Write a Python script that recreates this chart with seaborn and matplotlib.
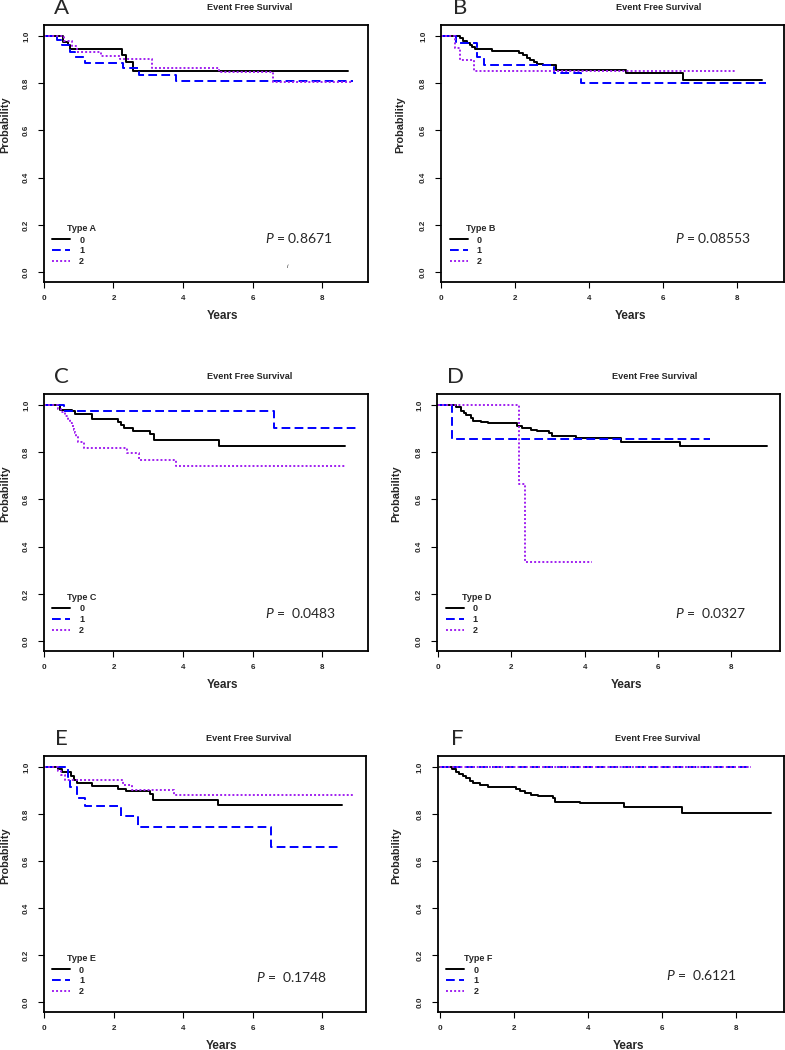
import matplotlib
matplotlib.use("Agg")
import matplotlib.pyplot as plt
import seaborn as sns
import pandas as pd

# Kaplan-Meier step data: time of each step and survival after it
A_t0 = [0, 0.54, 0.68, 0.74, 2.25, 2.37, 2.57, 8.75]
A_s0 = [1.0, 0.975, 0.963, 0.947, 0.919, 0.889, 0.853, 0.853]
A_t1 = [0, 0.37, 0.52, 0.76, 0.90, 1.19, 2.28, 2.73, 3.81, 8.90]
A_s1 = [1.0, 0.984, 0.961, 0.932, 0.910, 0.887, 0.865, 0.834, 0.808, 0.808]
A_t2 = [0, 0.57, 0.80, 0.95, 1.63, 2.20, 3.11, 5.03, 6.59, 8.90]
A_s2 = [1.0, 0.978, 0.956, 0.931, 0.914, 0.904, 0.865, 0.848, 0.807, 0.807]

B_t0 = [0, 0.51, 0.60, 0.69, 0.78, 0.85, 0.93, 1.37, 2.10, 2.21, 2.32, 2.41, 2.50,
        2.59, 2.75, 3.12, 5.00, 6.55, 8.68]
B_s0 = [1.0, 0.991, 0.980, 0.970, 0.963, 0.955, 0.946, 0.935, 0.928, 0.919, 0.907,
        0.897, 0.890, 0.883, 0.876, 0.857, 0.845, 0.813, 0.813]
B_t1 = [0, 0.40, 0.97, 1.17, 3.04, 3.78, 8.78]
B_s1 = [1.0, 0.970, 0.910, 0.878, 0.843, 0.800, 0.800]
B_t2 = [0, 0.38, 0.50, 0.88, 7.97]
B_s2 = [1.0, 0.950, 0.900, 0.850, 0.850]

C_t0 = [0, 0.45, 0.81, 0.90, 1.38, 2.12, 2.21, 2.29, 2.56, 3.06, 3.16, 5.03, 8.65]
C_s0 = [1.0, 0.980, 0.975, 0.960, 0.941, 0.927, 0.915, 0.901, 0.889, 0.878, 0.853,
        0.828, 0.828]
C_t1 = [0, 0.57, 6.61, 9.00]
C_s1 = [1.0, 0.973, 0.904, 0.904]
C_t2 = [0, 0.40, 0.50, 0.60, 0.68, 0.74, 0.80, 0.85, 0.90, 0.93, 0.97, 1.16, 2.39,
        2.73, 3.81, 8.70]
C_s2 = [1.0, 0.985, 0.970, 0.955, 0.940, 0.925, 0.910, 0.895, 0.880, 0.865, 0.843,
        0.818, 0.797, 0.768, 0.740, 0.740]

D_t0 = [0, 0.48, 0.62, 0.70, 0.77, 0.89, 0.96, 1.16, 1.36, 2.16, 2.30, 2.53, 2.69,
        3.03, 3.12, 3.75, 5.00, 6.61, 8.97]
D_s0 = [1.0, 0.993, 0.975, 0.966, 0.956, 0.945, 0.933, 0.928, 0.922, 0.910, 0.903,
        0.896, 0.890, 0.880, 0.868, 0.862, 0.845, 0.825, 0.825]
D_t1 = [0, 0.39, 7.43]
D_s1 = [1.0, 0.857, 0.857]
D_t2 = [0, 2.21, 2.38, 4.20]
D_s2 = [1.0, 0.667, 0.333, 0.333]

E_t0 = [0, 0.39, 0.52, 0.78, 0.86, 0.95, 1.38, 2.12, 2.37, 3.04, 3.14, 5.00, 8.56]
E_s0 = [1.0, 0.990, 0.979, 0.960, 0.945, 0.931, 0.919, 0.908, 0.896, 0.885, 0.859,
        0.838, 0.838]
E_t1 = [0, 0.70, 0.76, 0.95, 1.19, 2.22, 2.70, 6.52, 8.46]
E_s1 = [1.0, 0.957, 0.913, 0.870, 0.833, 0.790, 0.746, 0.660, 0.660]
E_t2 = [0, 0.40, 0.50, 0.60, 2.27, 2.53, 3.75, 8.87]
E_s2 = [1.0, 0.985, 0.965, 0.945, 0.925, 0.902, 0.881, 0.881]

F_t0 = [0, 0.32, 0.44, 0.52, 0.62, 0.71, 0.80, 0.89, 1.07, 1.31, 2.06, 2.17, 2.30,
        2.46, 2.64, 3.05, 3.11, 3.77, 4.97, 6.54, 8.93]
F_s0 = [1.0, 0.993, 0.981, 0.970, 0.962, 0.952, 0.942, 0.931, 0.925, 0.915, 0.907,
        0.897, 0.889, 0.882, 0.876, 0.868, 0.852, 0.846, 0.828, 0.806, 0.806]
F_t1 = [0, 8.38]
F_s1 = [1.0, 1.0]
F_t2 = [0, 8.38]
F_s2 = [1.0, 1.0]

letters = ["A", "B", "C", "D", "E", "F"]
legend_titles = ["Type A", "Type B", "Type C", "Type D", "Type E", "Type F"]
p_labels = ["0.8671", "0.08553", " 0.0483", " 0.0327", " 0.1748", " 0.6121"]
groups = ["0", "1", "2"]

curves = {
    "A": [(A_t0, A_s0), (A_t1, A_s1), (A_t2, A_s2)],
    "B": [(B_t0, B_s0), (B_t1, B_s1), (B_t2, B_s2)],
    "C": [(C_t0, C_s0), (C_t1, C_s1), (C_t2, C_s2)],
    "D": [(D_t0, D_s0), (D_t1, D_s1), (D_t2, D_s2)],
    "E": [(E_t0, E_s0), (E_t1, E_s1), (E_t2, E_s2)],
    "F": [(F_t0, F_s0), (F_t1, F_s1), (F_t2, F_s2)],
}

# axes rectangles in figure fraction (left, bottom, width, height)
rects = {
    "A": [0.056, 0.7314, 0.4127, 0.2448],
    "B": [0.5618, 0.7314, 0.4370, 0.2448],
    "C": [0.056, 0.3800, 0.4127, 0.2448],
    "D": [0.5567, 0.3800, 0.4370, 0.2448],
    "E": [0.056, 0.0362, 0.4100, 0.2438],
    "F": [0.5576, 0.0362, 0.4410, 0.2438],
}
xmax = {"A": 9.32, "B": 9.27, "C": 9.32, "D": 9.33, "E": 9.25, "F": 9.28}
xmin = {"A": 0.0, "B": 0.0, "C": 0.0, "D": -0.03, "E": 0.0, "F": -0.06}
p_pos = {"A": (0.682, 0.171), "B": (0.682, 0.171), "C": (0.682, 0.148),
         "D": (0.694, 0.148), "E": (0.658, 0.137), "F": (0.660, 0.143)}

colors = ["black", "#0000FF", "#A020F0"]
dash_styles = [(None, None), (4.5, 2.2), (1.0, 1.1)]


def main():
    sns.set_style("white")
    plt.rcParams["font.family"] = ["Liberation Sans", "DejaVu Sans"]
    plt.rcParams["mathtext.fontset"] = "custom"
    plt.rcParams["mathtext.it"] = "Lato:italic"
    plt.rcParams["mathtext.rm"] = "Lato"

    fig = plt.figure(figsize=(7.85, 10.5), dpi=100)

    for i, key in enumerate(letters):
        ax = fig.add_axes(rects[key])
        handles = []
        for g, (t, s) in enumerate(curves[key]):
            df = pd.DataFrame({"Years": t, "Probability": s})
            sns.lineplot(x="Years", y="Probability", data=df, ax=ax, sort=False,
                         estimator=None, drawstyle="steps-post", color=colors[g],
                         linewidth=1.4, label=groups[g])
            line = ax.lines[-1]
            if dash_styles[g][0] is not None:
                line.set_dashes(dash_styles[g])
            handles.append(line)

        ax.set_xlim(xmin[key], xmax[key])
        ax.set_ylim(-0.042, 1.047)
        ax.set_xticks([0, 2, 4, 6, 8])
        ax.set_yticks([0.0, 0.2, 0.4, 0.6, 0.8, 1.0])
        ax.set_yticklabels(["0.0", "0.2", "0.4", "0.6", "0.8", "1.0"], rotation=90,
                           va="center")
        ax.tick_params(axis="both", which="major", labelsize=5.8, length=4.5,
                       width=0.8, direction="out", color="black", left=True,
                       bottom=True)
        ax.tick_params(axis="x", pad=5)
        ax.tick_params(axis="y", pad=5.5)
        for lab in ax.get_xticklabels() + ax.get_yticklabels():
            lab.set_fontweight("bold")
        for sp in ax.spines.values():
            sp.set_color("black")
            sp.set_linewidth(1.3)
        ax.set_xlabel("")
        ax.set_ylabel("")

        ax.text(0.551, -0.132, "Years", transform=ax.transAxes, ha="center",
                va="center", fontsize=8.5, fontweight="bold")
        ax.text(-0.12, 0.612, "Probability", transform=ax.transAxes, ha="center",
                va="center", rotation=90, fontsize=7.8, fontweight="bold")
        ax.text(0.635, 1.068, "Event Free Survival", transform=ax.transAxes,
                ha="center", va="center", fontsize=6.6, fontweight="bold")
        ax.text(0.055, 1.066, key, transform=ax.transAxes, ha="center",
                va="center", fontsize=16, family="Lato")

        ax.legend(handles=handles, labels=groups, loc="upper left",
                  bbox_to_anchor=(0.025, 0.181), frameon=False,
                  borderpad=0, borderaxespad=0, handlelength=2.0,
                  handletextpad=1.0, labelspacing=0.2,
                  prop={"size": 6.5, "weight": "bold"})
        ax.text(0.116, 0.21, legend_titles[i], transform=ax.transAxes,
                ha="center", va="center", fontsize=6.5, fontweight="bold")

        px, py = p_pos[key]
        ax.text(px, py, r"$P$ = " + p_labels[i], transform=ax.transAxes,
                ha="left", va="center", fontsize=10, family="Lato")

        if key == "A":
            ax.text(0.752, 0.06, "i", transform=ax.transAxes, ha="center",
                    va="center", fontsize=4.5, style="italic")

    fig.savefig("out.png", dpi=100)


if __name__ == "__main__":
    main()
